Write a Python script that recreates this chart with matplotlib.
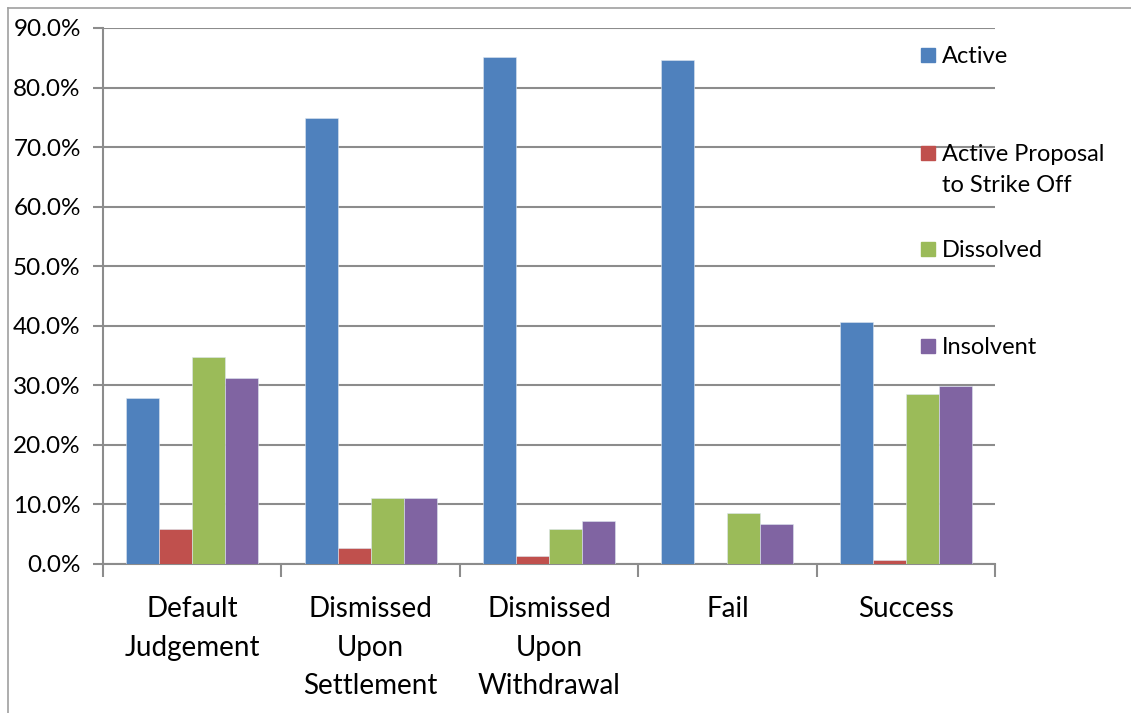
import matplotlib.pyplot as plt
import numpy as np
from matplotlib.patches import Rectangle
from matplotlib.ticker import PercentFormatter

categories = ["Default\nJudgement", "Dismissed\nUpon\nSettlement", "Dismissed\nUpon\nWithdrawal",
              "Fail", "Success"]
series = ["Active", "Active Proposal\nto Strike Off", "Dissolved", "Insolvent"]
active = [27.9, 74.9, 85.1, 84.6, 40.6]
proposal = [5.8, 2.7, 1.4, 0.0, 0.6]
dissolved = [34.8, 11.0, 5.9, 8.5, 28.5]
insolvent = [31.2, 11.0, 7.3, 6.8, 29.9]
colors = ["#4F81BD", "#C0504D", "#9BBB59", "#8064A2"]

plt.rcParams['font.family'] = ['Lato', 'DejaVu Sans']
grey = "#8c8c8c"

fig = plt.figure(figsize=(11.31, 7.13), dpi=100)
ax = fig.add_axes([103 / 1131, 1 - 564 / 713, 892 / 1131, 536 / 713])

x = np.arange(len(categories))
width = 0.185
for i, vals in enumerate([active, proposal, dissolved, insolvent]):
    ax.bar(x + (i - 1.5) * width, vals, width, color=colors[i],
           edgecolor="#dde6f0", linewidth=0.4, zorder=3)

ax.set_xlim(-0.5, len(categories) - 0.5)
ax.set_ylim(0, 90)
ax.set_yticks(np.arange(0, 91, 10))
ax.yaxis.set_major_formatter(PercentFormatter(decimals=1))
ax.grid(axis="y", color=grey, linewidth=1.5, zorder=0)

ax.set_xticks(x)
ax.set_xticklabels(categories, fontsize=20, linespacing=1.6, va="top")
ax.set_xticks(np.arange(-0.5, len(categories)), minor=True)
ax.tick_params(axis="x", which="major", length=0, pad=23)
ax.tick_params(axis="x", which="minor", length=9, width=1.5, color=grey)
ax.tick_params(axis="y", length=7, width=1.5, color=grey, labelsize=17.5, pad=9)

for s in ["top", "right"]:
    ax.spines[s].set_visible(False)
for s in ["left", "bottom"]:
    ax.spines[s].set_color(grey)
    ax.spines[s].set_linewidth(1.5)

# manual legend
leg_y = [55, 153, 249, 346]
for name, c, yy in zip(series, colors, leg_y):
    fig.patches.append(Rectangle((921 / 1131, 1 - (yy + 7) / 713), 14 / 1131, 14 / 713,
                                 transform=fig.transFigure, color=c))
    fig.text(942 / 1131, 1 - (yy - 9) / 713, name, fontsize=17, va="top",
             linespacing=1.6)

# outer chart border (top and left visible)
fig.add_artist(plt.Line2D([8 / 1131, 8 / 1131], [0, 1 - 8 / 713], transform=fig.transFigure,
                          color="#a0a0a0", linewidth=1.2))
fig.add_artist(plt.Line2D([8 / 1131, 1], [1 - 8 / 713, 1 - 8 / 713], transform=fig.transFigure,
                          color="#a0a0a0", linewidth=1.2))

fig.savefig("out.png", dpi=100)
